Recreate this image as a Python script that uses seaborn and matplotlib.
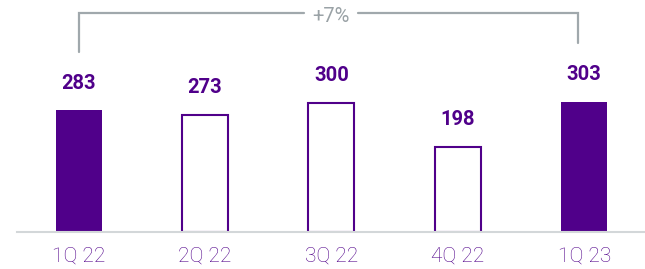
import matplotlib
matplotlib.use("Agg")
import matplotlib.pyplot as plt
import seaborn as sns

# Dades del gràfic
trimestres = ["1Q 22", "2Q 22", "3Q 22", "4Q 22", "1Q 23"]
valors = [283, 273, 300, 198, 303]
plens = [True, False, False, False, True]
variacio = "+7%"

lila = "#50008A"
gris = "#A0A8AC"

sns.set_style("white")
plt.rcParams["font.family"] = ["Roboto", "DejaVu Sans"]

fig = plt.figure(figsize=(6.45, 2.69), dpi=100)
W, H = 645, 269
ax = fig.add_axes([17 / W, (H - 232) / H, 1 - 17 / W, 232 / H])

sns.barplot(x=trimestres, y=valors, color=lila, width=0.364, linewidth=0, ax=ax)

for bar, ple in zip(ax.patches, plens):
    if ple:
        bar.set_facecolor(lila)
        bar.set_edgecolor(lila)
    else:
        bar.set_facecolor("white")
        bar.set_edgecolor(lila)
        bar.set_linewidth(1.5)

# Etiquetes de valor
for i, v in enumerate(valors):
    ax.annotate(str(v), (i, v), xytext=(0, 15.5), textcoords="offset points",
                ha="center", va="baseline", fontsize=14.5, fontweight="bold", color=lila)

# Escala en píxels
px_x = 126.4
px_y = 0.43
ax.set_xlim((17 - 78.6) / px_x, (645 - 78.6) / px_x)
ax.set_ylim(0, 232 / px_y)

# Claudàtor de variació
y_top = (232 - 13) / px_y
x_dreta = (578 - 78.6) / px_x
ax.plot([0, 0, 1.78], [(232 - 52) / px_y, y_top, y_top], color=gris, lw=1.6,
        solid_joinstyle="miter", clip_on=False)
ax.plot([2.21, x_dreta, x_dreta], [y_top, y_top, (232 - 43) / px_y], color=gris, lw=1.6,
        solid_joinstyle="miter", clip_on=False)
ax.text(2.0, (232 - 17) / px_y, variacio, ha="center", va="center", fontsize=14.5,
        color="#9AA2A6")

for s in ["top", "right", "left"]:
    ax.spines[s].set_visible(False)
ax.spines["bottom"].set_color("#D3D7D9")
ax.spines["bottom"].set_linewidth(1.5)
ax.set_yticks([])
ax.set_xlabel("")
ax.set_ylabel("")
ax.tick_params(axis="x", length=0, pad=10.5, labelsize=15, labelcolor=lila)
for lab in ax.get_xticklabels():
    lab.set_fontweight("light")

fig.savefig("out.png", dpi=100)
